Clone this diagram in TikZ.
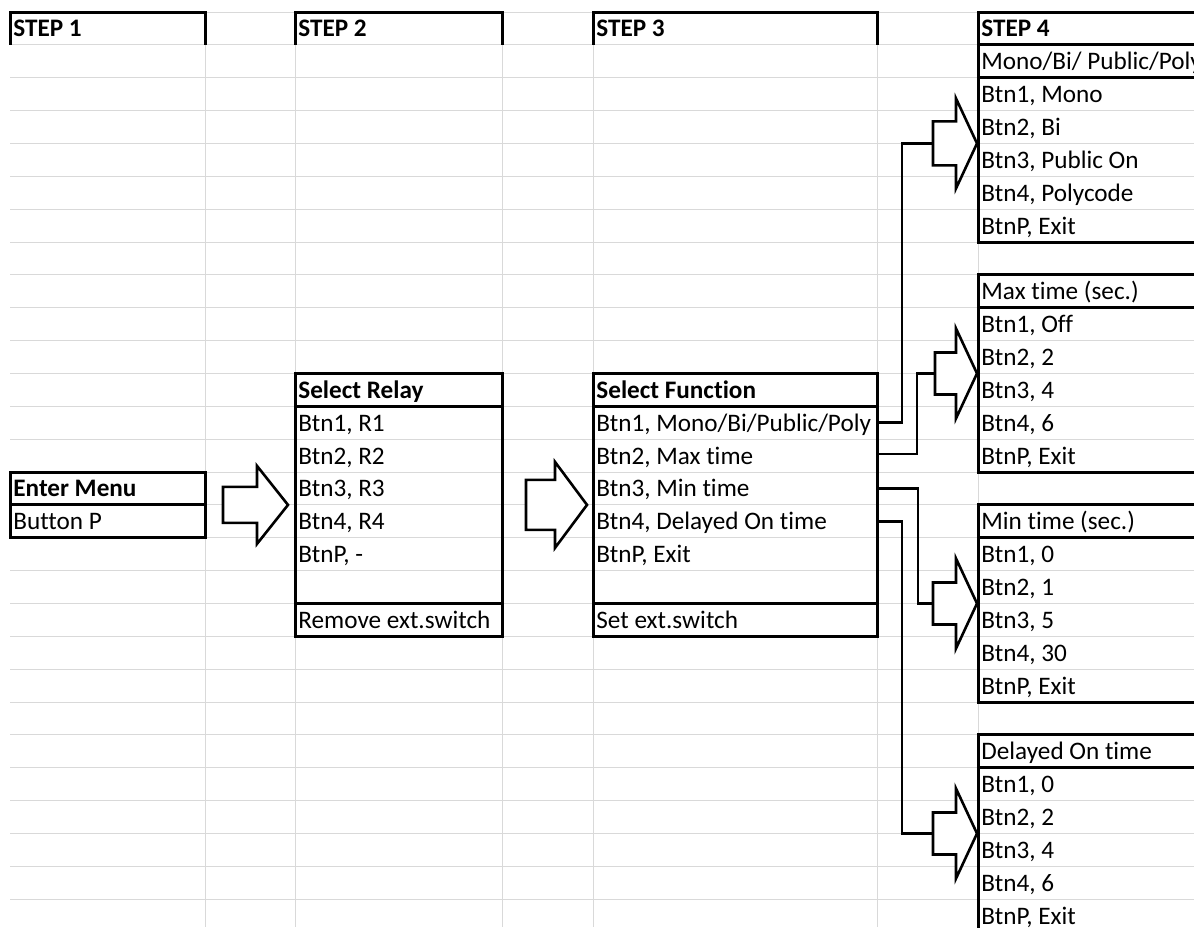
\documentclass[tikz,border=0pt]{standalone}
\usepackage{fontspec}
\setmainfont{Carlito}[Ligatures={NoCommon,NoRequired,NoContextual}]
\definecolor{gridc}{HTML}{D9D9D9}
\newcommand\ry[1]{(12+32.86*(#1))}
\newcommand\blkarrow[5]{\draw[blockarrow] (#1) ++(0,-#4) -- ++(#2,0) -- ++(0,{-(#5-#4)}) -- ++(#3,#5) -- ++(-#3,#5) -- ++(0,{-(#5-#4)}) -- ++(-#2,0) -- cycle;}
\newcommand\cellat[5]{\node[#1] (#2) at (#3,{\ry{#4+1}-8}) {#5};}
\begin{document}
\begin{tikzpicture}[x=0.5pt,y=-0.5pt,
 gridline/.style={draw=gridc,line width=0.5pt},
 thickbox/.style={draw=black,line width=1.5pt,line join=miter},
 conn/.style={draw=black,line width=1.3pt},
 blockarrow/.style={draw=black,fill=white,line width=1.3pt,line join=miter},
 cell/.style={anchor=base west,inner sep=0pt,font=\fontsize{12.6}{14}\selectfont},
 hcell/.style={cell,font=\fontsize{12.6}{14}\selectfont\bfseries}]
\useasboundingbox[fill=white] (0,0) rectangle (1194,927);
% grid
\foreach \i in {0,...,27} \draw[gridline] (10,{\ry{\i}}) -- (1194,{\ry{\i}});
\foreach \x in {205,295,502,593,877,978} \draw[gridline] (\x,{\ry{0}}) -- (\x,927);
% step headers
\draw[thickbox] (10,{\ry{1}}) |- (205,{\ry{0}}) -- (205,{\ry{1}});
\draw[thickbox] (295,{\ry{1}}) |- (502,{\ry{0}}) -- (502,{\ry{1}});
\draw[thickbox] (593,{\ry{1}}) |- (877,{\ry{0}}) -- (877,{\ry{1}});
% enter menu box
\draw[thickbox] (10,{\ry{14}}) rectangle (205,{\ry{16}});
\draw[thickbox] (10,{\ry{15}}) -- (205,{\ry{15}});
% relay box
\draw[thickbox] (295,{\ry{11}}) rectangle (502,{\ry{19}});
\draw[thickbox] (295,{\ry{12}}) -- (502,{\ry{12}});
\draw[thickbox] (295,{\ry{18}}) -- (502,{\ry{18}});
% function box
\draw[thickbox] (593,{\ry{11}}) rectangle (877,{\ry{19}});
\draw[thickbox] (593,{\ry{12}}) -- (877,{\ry{12}});
\draw[thickbox] (593,{\ry{18}}) -- (877,{\ry{18}});
% step 4 boxes
\draw[thickbox] (978,{\ry{0}}) rectangle (1215,{\ry{7}});
\draw[thickbox] (978,{\ry{1}}) -- (1215,{\ry{1}});
\draw[thickbox] (978,{\ry{2}}) -- (1215,{\ry{2}});
\draw[thickbox] (978,{\ry{8}}) rectangle (1215,{\ry{14}});
\draw[thickbox] (978,{\ry{9}}) -- (1215,{\ry{9}});
\draw[thickbox] (978,{\ry{15}}) rectangle (1215,{\ry{21}});
\draw[thickbox] (978,{\ry{16}}) -- (1215,{\ry{16}});
\draw[thickbox] (978,{\ry{22}}) rectangle (1215,960);
\draw[thickbox] (978,{\ry{23}}) -- (1215,{\ry{23}});
% connector ends
\coordinate (f1) at (877,{\ry{12.5}});
\coordinate (f2) at (877,{\ry{13.45}});
\coordinate (f3) at (877,{\ry{14.5}});
\coordinate (f4) at (877,{\ry{15.5}});
\coordinate (amono) at (933,{\ry{4}});
\coordinate (amax) at (935,{\ry{11}});
\coordinate (amin) at (933,{\ry{18}});
\coordinate (adel) at (933,{\ry{25}});
\coordinate (a1) at (223,{\ry{15}});
\coordinate (a2) at (526,{\ry{15}});
\draw[conn] (f1) -- ++(25,0) |- (amono);
\draw[conn] (f2) -- ++(40,0) |- (amax);
\draw[conn] (f3) -- ++(41,0) |- (amin);
\draw[conn] (f4) -- ++(25,0) |- (adel);
% block arrows
\blkarrow{a1}{34}{31}{18}{39}
\blkarrow{a2}{29}{32}{25}{43}
\blkarrow{amono}{23}{21}{22}{45}
\blkarrow{amax}{21}{21}{21}{45}
\blkarrow{amin}{23}{21}{21}{45}
\blkarrow{adel}{23}{21}{21}{45}
% texts
\cellat{hcell}{s1}{13}{0}{STEP 1}
\cellat{hcell}{s2}{298}{0}{STEP 2}
\cellat{hcell}{s3}{596}{0}{STEP 3}
\cellat{hcell}{s4}{981}{0}{STEP 4}
\cellat{hcell}{em}{13}{14}{Enter Menu}
\cellat{cell}{bp}{13}{15}{Button P}
\cellat{hcell}{rh}{298}{11}{Select Relay}
\cellat{cell}{r1}{298}{12}{Btn1, R1}
\cellat{cell}{r2}{298}{13}{Btn2, R2}
\cellat{cell}{r3}{298}{14}{Btn3, R3}
\cellat{cell}{r4}{298}{15}{Btn4, R4}
\cellat{cell}{rp}{298}{16}{BtnP, -}
\cellat{cell}{rx}{298}{18}{Remove ext.switch}
\cellat{hcell}{fh}{596}{11}{Select Function}
\cellat{cell}{fn1}{596}{12}{Btn1, Mono/Bi/Public/Poly}
\cellat{cell}{fn2}{596}{13}{Btn2, Max time}
\cellat{cell}{fn3}{596}{14}{Btn3, Min time}
\cellat{cell}{fn4}{596}{15}{Btn4, Delayed On time}
\cellat{cell}{fnp}{596}{16}{BtnP, Exit}
\cellat{cell}{fnx}{596}{18}{Set ext.switch}
\cellat{cell}{mh}{981}{1}{Mono/Bi/ Public/Poly}
\cellat{cell}{m1}{981}{2}{Btn1, Mono}
\cellat{cell}{m2}{981}{3}{Btn2, Bi}
\cellat{cell}{m3}{981}{4}{Btn3, Public On}
\cellat{cell}{m4}{981}{5}{Btn4, Polycode}
\cellat{cell}{mp}{981}{6}{BtnP, Exit}
\cellat{cell}{xh}{981}{8}{Max time (sec.)}
\cellat{cell}{x1}{981}{9}{Btn1, Off}
\cellat{cell}{x2}{981}{10}{Btn2, 2}
\cellat{cell}{x3}{981}{11}{Btn3, 4}
\cellat{cell}{x4}{981}{12}{Btn4, 6}
\cellat{cell}{xp}{981}{13}{BtnP, Exit}
\cellat{cell}{nh}{981}{15}{Min time (sec.)}
\cellat{cell}{n1}{981}{16}{Btn1, 0}
\cellat{cell}{n2}{981}{17}{Btn2, 1}
\cellat{cell}{n3}{981}{18}{Btn3, 5}
\cellat{cell}{n4}{981}{19}{Btn4, 30}
\cellat{cell}{np}{981}{20}{BtnP, Exit}
\cellat{cell}{dh}{981}{22}{Delayed On time}
\cellat{cell}{d1}{981}{23}{Btn1, 0}
\cellat{cell}{d2}{981}{24}{Btn2, 2}
\cellat{cell}{d3}{981}{25}{Btn3, 4}
\cellat{cell}{d4}{981}{26}{Btn4, 6}
\cellat{cell}{dp}{981}{27}{BtnP, Exit}
\end{tikzpicture}
\end{document}
